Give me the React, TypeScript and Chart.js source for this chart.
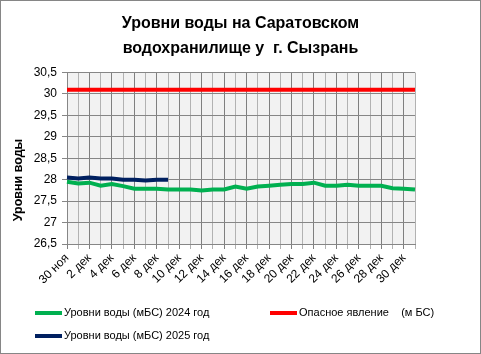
import React, { useEffect, useRef } from 'react';
import { Chart, registerables } from 'chart.js';

Chart.register(...registerables);

const categories = [
  '30 ноя', '1 дек', '2 дек', '3 дек', '4 дек', '5 дек', '6 дек', '7 дек', '8 дек', '9 дек',
  '10 дек', '11 дек', '12 дек', '13 дек', '14 дек', '15 дек', '16 дек', '17 дек', '18 дек', '19 дек',
  '20 дек', '21 дек', '22 дек', '23 дек', '24 дек', '25 дек', '26 дек', '27 дек', '28 дек', '29 дек',
  '30 дек', '31 дек',
];

const levels2024 = [
  27.95, 27.91, 27.93, 27.86, 27.9, 27.85, 27.79, 27.79, 27.79, 27.77,
  27.77, 27.77, 27.75, 27.77, 27.77, 27.84, 27.79, 27.84, 27.86, 27.88,
  27.9, 27.9, 27.93, 27.86, 27.86, 27.88, 27.86, 27.86, 27.86, 27.8,
  27.79, 27.77,
];

const levels2025 = [28.05, 28.03, 28.05, 28.03, 28.03, 28.0, 28.0, 27.98, 28.0, 28.0];

const dangerLevel = categories.map(() => 30.1);

const titleLines = ['Уровни воды на Саратовском', 'водохранилище у  г. Сызрань'];
const yAxisTitle = 'Уровни воды';
const legendItems = [
  { text: 'Уровни воды (мБС) 2024 год', color: '#00B050', col: 0, row: 0 },
  { text: 'Опасное явление    (м БС)', color: '#FF0000', col: 1, row: 0 },
  { text: 'Уровни воды (мБС) 2025 год', color: '#002060', col: 0, row: 1 },
];

const FONT = '"Liberation Sans", Arial, sans-serif';

const decorPlugin = {
  id: 'decor',
  beforeDraw(chart: any) {
    const { ctx, chartArea } = chart;
    ctx.save();
    ctx.fillStyle = '#ffffff';
    ctx.fillRect(0, 0, chart.width, chart.height);
    ctx.fillStyle = '#F2F2F2';
    ctx.fillRect(chartArea.left, chartArea.top, chartArea.right - chartArea.left, chartArea.bottom - chartArea.top);
    ctx.restore();
  },
  afterDraw(chart: any) {
    const { ctx } = chart;
    ctx.save();
    ctx.strokeStyle = '#868686';
    ctx.lineWidth = 1;
    ctx.strokeRect(0.5, 0.5, chart.width - 1, chart.height - 1);
    ctx.translate(18.5, 180);
    ctx.rotate(-Math.PI / 2);
    ctx.font = `bold 12.5px ${FONT}`;
    ctx.fillStyle = '#000000';
    ctx.textAlign = 'center';
    ctx.textBaseline = 'middle';
    ctx.fillText(yAxisTitle, 0, 0);
    ctx.restore();
    ctx.save();
    const colX = [35, 270];
    const rowY = [313, 336];
    ctx.font = `11px ${FONT}`;
    ctx.textBaseline = 'middle';
    ctx.textAlign = 'left';
    legendItems.forEach((it) => {
      const x = colX[it.col];
      const y = rowY[it.row];
      ctx.strokeStyle = it.color;
      ctx.lineWidth = 4;
      ctx.beginPath();
      ctx.moveTo(x, y);
      ctx.lineTo(x + 27, y);
      ctx.stroke();
      ctx.fillStyle = '#000000';
      ctx.fillText(it.text, x + 29, y);
    });
    ctx.restore();
  },
};

export default function App() {
  const canvasRef = useRef<HTMLCanvasElement>(null);

  useEffect(() => {
    if (!canvasRef.current) return;
    const chart = new Chart(canvasRef.current, {
      type: 'line',
      data: {
        labels: categories,
        datasets: [
          {
            label: legendItems[0].text,
            data: levels2024,
            borderColor: '#00B050',
            backgroundColor: '#00B050',
            borderWidth: 4,
            pointRadius: 0,
            tension: 0,
          },
          {
            label: legendItems[1].text,
            data: dangerLevel,
            borderColor: '#FF0000',
            backgroundColor: '#FF0000',
            borderWidth: 4,
            pointRadius: 0,
            tension: 0,
          },
          {
            label: legendItems[2].text,
            data: levels2025,
            borderColor: '#002060',
            backgroundColor: '#002060',
            borderWidth: 4,
            pointRadius: 0,
            tension: 0,
          },
        ],
      },
      options: {
        animation: false,
        responsive: true,
        maintainAspectRatio: false,
        layout: { padding: { left: 0, right: 0, top: 0, bottom: 60 } },
        plugins: {
          legend: { display: false },
          tooltip: { enabled: false },
          title: {
            display: true,
            text: titleLines,
            color: '#000000',
            font: { family: FONT, size: 16, weight: 'bold', lineHeight: 25 / 16 },
            padding: { top: 11.5, bottom: 11 },
          },
        },
        scales: {
          x: {
            offset: false,
            afterFit: (scale: any) => { scale.height = 50; },
            grid: {
              display: true,
              drawOnChartArea: true,
              drawTicks: true,
              tickLength: 5,
              color: (ctx: any) => (ctx.index % 2 === 0 ? '#7F7F7F' : '#B2B2B2'),
              lineWidth: 1,
            },
            border: { display: true, color: '#868686', width: 1 },
            ticks: {
              autoSkip: false,
              minRotation: 45,
              maxRotation: 45,
              padding: 2,
              color: '#000000',
              font: { family: FONT, size: 12 },
              callback: (_v: any, i: number) => (i % 2 === 0 ? categories[i] : ''),
            },
          },
          y: {
            min: 26.5,
            max: 30.5,
            afterFit: (scale: any) => { scale.width = 67; },
            grid: {
              color: '#868686',
              lineWidth: 1,
              tickLength: 5,
            },
            border: { display: true, color: '#868686', width: 1 },
            ticks: {
              stepSize: 0.5,
              padding: 5,
              color: '#000000',
              font: { family: FONT, size: 12 },
              callback: (v: any) => String(Number(v)).replace('.', ','),
            },
          },
          spacer: {
            type: 'linear',
            position: 'right',
            afterFit: (scale: any) => { scale.width = 66; },
            grid: { display: false },
            border: { display: false },
            ticks: { display: false },
          },
        },
      },
      plugins: [decorPlugin],
    });
    return () => chart.destroy();
  }, []);

  return (
    <div style={{ position: 'absolute', left: 0, top: 0, width: 481, height: 354 }}>
      <canvas ref={canvasRef} />
    </div>
  );
}
